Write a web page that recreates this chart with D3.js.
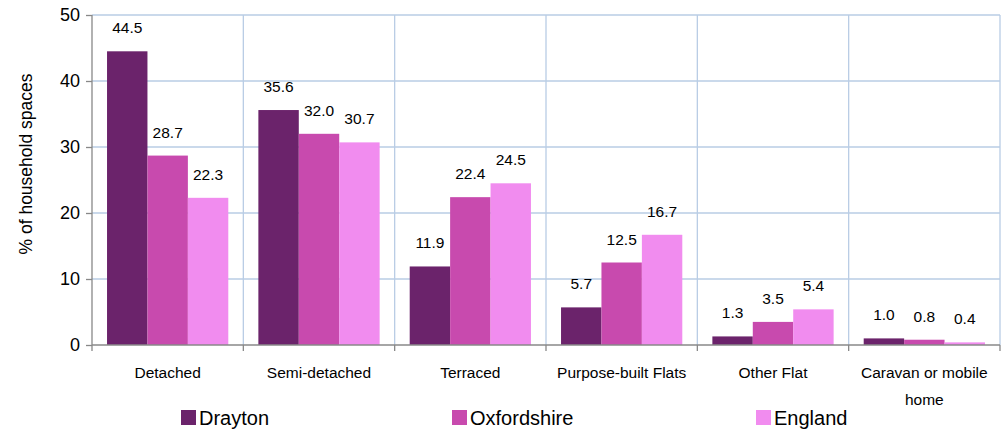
<!DOCTYPE html>
<html><head><meta charset="utf-8">
<script src="https://cdn.jsdelivr.net/npm/d3@7/dist/d3.min.js"></script>
<style>body{margin:0;background:#fff}svg{display:block}text{font-family:"Liberation Sans",Arial,sans-serif;fill:#000}</style>
</head><body><svg id="c" width="1006" height="432"></svg>
<script>
const categories = ["Detached","Semi-detached","Terraced","Purpose-built Flats","Other Flat","Caravan or mobile home"];
const seriesNames = ["Drayton","Oxfordshire","England"];
const drayton = [44.5,35.6,11.9,5.7,1.3,1.0];
const oxfordshire = [28.7,32.0,22.4,12.5,3.5,0.8];
const england = [22.3,30.7,24.5,16.7,5.4,0.4];
const yTicks = [0,10,20,30,40,50];
const colors = ["#6B236B","#C84AAE","#F18CEF"];
const values = [drayton, oxfordshire, england];

const svg = d3.select("#c");
const m = {l:92, r:1000, t:15, b:345};
const x = d3.scaleBand().domain(categories).range([m.l, m.r]).paddingInner(0).paddingOuter(0);
const xs = d3.scaleBand().domain(seriesNames).range([0, x.bandwidth()]).paddingInner(0).paddingOuter(0.372);
const y = d3.scaleLinear().domain([0,50]).range([m.b, m.t]);

// gridlines
const grid = svg.append("g").attr("stroke","#B9CDE5").attr("stroke-width",1.3);
yTicks.filter(t=>t>0).forEach(t=>grid.append("line").attr("x1",m.l).attr("x2",m.r).attr("y1",y(t)).attr("y2",y(t)));
categories.forEach((c,i)=>{ if(i>0) grid.append("line").attr("x1",x(c)).attr("x2",x(c)).attr("y1",m.t).attr("y2",m.b); });
grid.append("line").attr("x1",m.r).attr("x2",m.r).attr("y1",m.t).attr("y2",m.b);

// bars
seriesNames.forEach((s,si)=>{
  const g = svg.append("g");
  categories.forEach((c,ci)=>{
    const v = values[si][ci];
    g.append("rect").attr("x", x(c)+xs(s)).attr("width", xs.bandwidth()).attr("y", y(v)).attr("height", y(0)-y(v)).attr("fill", colors[si]);
    svg.append("text").attr("x", x(c)+xs(s)+xs.bandwidth()/2).attr("y", y(v)-18).attr("text-anchor","middle").attr("font-size",15.5).text(v.toFixed(1));
  });
});

// y axis
const yAxis = d3.axisLeft(y).tickValues(yTicks).tickSize(6).tickPadding(6).tickFormat(d3.format("d"));
const ya = svg.append("g").attr("transform",`translate(${m.l},0)`).call(yAxis);
ya.selectAll("path,line").attr("stroke","#888").attr("stroke-width",1.3);
ya.select(".domain").attr("d",`M0,${m.t}V${m.b}`);
ya.selectAll("text").attr("font-size",18).attr("font-family","Liberation Sans, Arial, sans-serif").attr("fill","#000");

// x axis
const xa = svg.append("g").attr("transform",`translate(0,${m.b})`);
xa.append("line").attr("x1",m.l).attr("x2",m.r).attr("stroke","#888").attr("stroke-width",1.5);
categories.forEach(c=>xa.append("line").attr("x1",x(c)).attr("x2",x(c)).attr("y1",0).attr("y2",6).attr("stroke","#888").attr("stroke-width",1.3));
xa.append("line").attr("x1",m.r).attr("x2",m.r).attr("y1",0).attr("y2",6).attr("stroke","#888").attr("stroke-width",1.3);
categories.forEach(c=>{
  const cx = x(c)+x.bandwidth()/2;
  const t = xa.append("text").attr("text-anchor","middle").attr("font-size",15.5).attr("x", cx);
  if(c==="Caravan or mobile home"){
    t.append("tspan").attr("x",cx).attr("y",33).text("Caravan or mobile");
    t.append("tspan").attr("x",cx).attr("y",60).text("home");
  } else t.attr("y",33).text(c);
});

// y title
svg.append("text").attr("transform","translate(32,164) rotate(-90)").attr("text-anchor","middle").attr("font-size",17.5).text("% of household spaces");

// legend
const legX = [181, 452, 756];
seriesNames.forEach((s,i)=>{
  svg.append("rect").attr("x",legX[i]).attr("y",410).attr("width",15).attr("height",15).attr("fill",colors[i]);
  svg.append("text").attr("x",legX[i]+18).attr("y",425).attr("font-size",20).text(s);
});
</script></body></html>
